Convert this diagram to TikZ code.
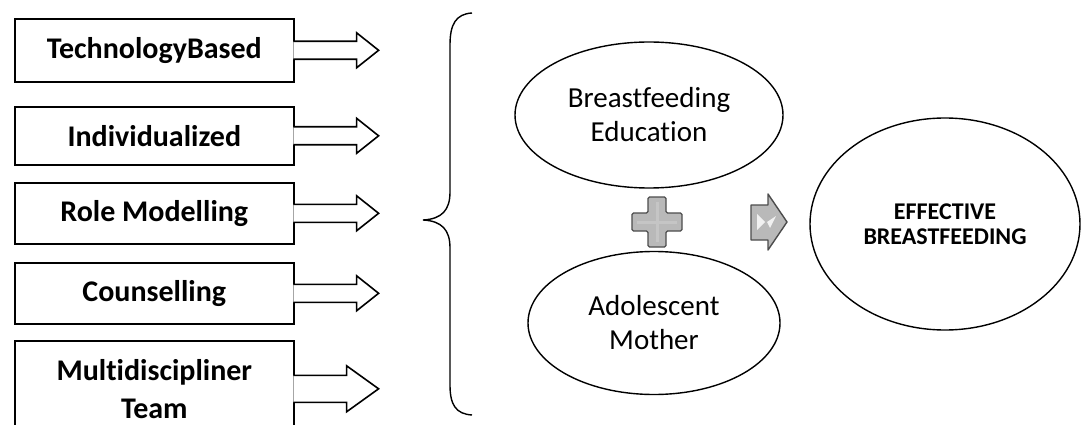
\documentclass[tikz,border=0pt]{standalone}
\usepackage{fontspec}
\setmainfont{Carlito}[Ligatures=NoCommon,RawFeature={-liga;-clig;-dlig}]
\usetikzlibrary{shapes.geometric,calc}
\newcommand\catarrow[4]{%
  \draw[line width=1.6pt, fill=white, line join=miter]
    ($(#1.east)+(-1.3,-#2)$) -- ($(#1.east)+(#4,-#2)$) -- ($(#1.east)+(#4,-#3)$)
    -- ($(#1.east)+(84,0)$) -- ($(#1.east)+(#4,#3)$) -- ($(#1.east)+(#4,#2)$)
    -- ($(#1.east)+(-1.3,#2)$);}
\begin{document}
\begin{tikzpicture}[x=1pt,y=-1pt,
  catbox/.style={draw, line width=1.6pt, minimum width=279pt, inner sep=0pt,
    font=\fontsize{30}{38}\selectfont\bfseries, align=center, anchor=north west},
  oval/.style={draw, ellipse, line width=1.4pt, inner sep=0pt, align=center,
    font=\fontsize{29}{34}\selectfont},
  gshape/.style={fill=gray!55, draw=black!70, line width=1.4pt, line join=round},
]
\useasboundingbox (0,0) rectangle (1082,425);
\clip (0,0) rectangle (1082,425);

\node[catbox, minimum height=63pt] (b1) at (14,18) {TechnologyBased};
\node[catbox, minimum height=58pt] (b2) at (14,106) {Individualized};
\node[catbox, minimum height=61pt] (b3) at (14,182) {Role Modelling};
\node[catbox, minimum height=61pt] (b4) at (14,262) {Counselling};
\node[catbox, minimum height=96pt] (b5) at (14,340) {Multidiscipliner\\Team};

\catarrow{b1}{9}{17.5}{62}
\catarrow{b2}{9}{17.5}{62}
\catarrow{b3}{9}{17.5}{62}
\catarrow{b4}{9}{17.5}{62}
\catarrow{b5}{13.5}{23}{52}

% brace
\draw[line width=1.4pt] (472,13) .. controls (456,14) and (450,24) .. (450,45)
  -- (450,192) .. controls (450,210) and (442,219) .. (423,220)
  .. controls (442,221) and (450,230) .. (450,248)
  -- (450,385) .. controls (450,405) and (456,414) .. (472,415);

\node[oval, minimum width=268pt, minimum height=146pt] (edu) at (649,115) {Breastfeeding\\Education};
\node[oval, minimum width=252pt, minimum height=143pt] (mom) at (654,323) {Adolescent\\Mother};
\node[oval, minimum width=270pt, minimum height=212pt,
  font=\fontsize{24}{25}\selectfont\bfseries] (eff) at (945,224) {EFFECTIVE\\BREASTFEEDING};

% plus sign
\draw[gshape, rounded corners=1.5pt] (648,197) -- (666,197) -- (666,213) -- (682,213) -- (682,231)
  -- (666,231) -- (666,247) -- (648,247) -- (648,231) -- (632,231) -- (632,213)
  -- (648,213) -- cycle;
\draw[gray!35, line width=3pt, opacity=0.5] (657,202) -- (657,242) (637,222) -- (677,222);

% grey arrow
\draw[gshape] (751,205) -- (768,205) -- (768,194) -- (787,222) -- (768,250)
  -- (768,240) -- (751,240) -- cycle;
\fill[white, opacity=0.8] (757,214) -- (765,222) -- (757,230) -- cycle;
\fill[white, opacity=0.8] (776,216) -- (770,228) -- (767,222) -- cycle;
\end{tikzpicture}
\end{document}
